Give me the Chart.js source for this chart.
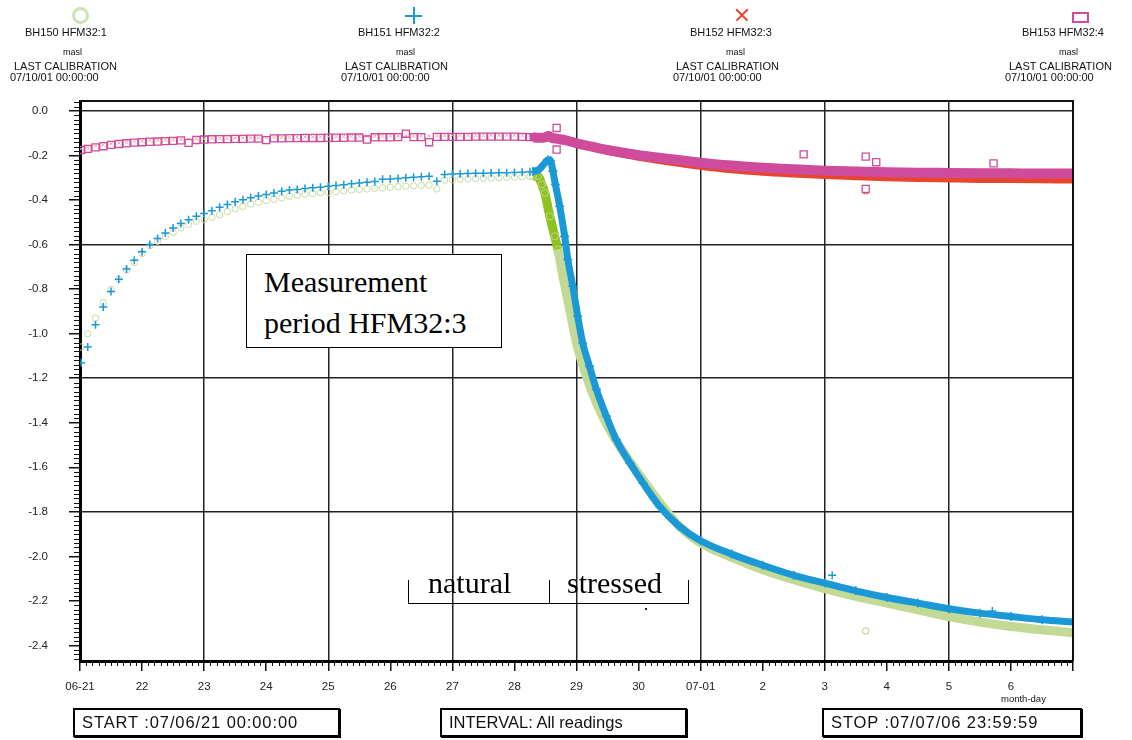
<!DOCTYPE html>
<html>
<head>
<meta charset="utf-8">
<title>HFM32 pressure</title>
<script src="https://cdn.jsdelivr.net/npm/chart.js@4.4.1/dist/chart.umd.min.js"></script>
<style>
  html, body { margin: 0; padding: 0; background: #fff; }
  #wrap { position: relative; width: 1132px; height: 740px; overflow: hidden;
          font-family: "Liberation Sans", Arial, sans-serif; color: #111; }
  #chart { position: absolute; left: 0; top: 0; }
  .t { position: absolute; white-space: nowrap; line-height: 1; }
  .nm { font-size: 11px; }
  .un { font-size: 9px; }
  .lc { font-size: 11px; }
  .dt { font-size: 11px; }
  .box { position: absolute; border: 2px solid #000; box-shadow: 1px 1px 0 #000; background: #fff;
         height: 25px; line-height: 25px; font-size: 16.5px; padding-left: 7px; box-sizing: content-box; }
  .wide { letter-spacing: 0.9px; }
  .serif { font-family: "Liberation Serif", "Times New Roman", serif; font-size: 30px; color: #000; }
  .sym { position: absolute; box-sizing: border-box; }
</style>
</head>
<body>
<div id="wrap">
  <canvas id="chart" width="1132" height="740"></canvas>

  <!-- series key -->
  <div class="sym" style="left:72px;top:7px;width:17px;height:17px;border:3px solid #cfe1ac;border-radius:50%;"></div>
  <div class="t nm" style="left:25px;top:27px;">BH150 HFM32:1</div>
  <div class="t un" style="left:63px;top:48px;">masl</div>
  <div class="t lc" style="left:14px;top:61px;">LAST CALIBRATION</div>
  <div class="t dt" style="left:10px;top:72px;">07/10/01 00:00:00</div>

  <div class="sym" style="left:405px;top:15px;width:17px;height:2px;background:#1d9ad6;"></div>
  <div class="sym" style="left:412.5px;top:7px;width:2px;height:17px;background:#1d9ad6;"></div>
  <div class="t nm" style="left:358px;top:27px;">BH151 HFM32:2</div>
  <div class="t un" style="left:396px;top:48px;">masl</div>
  <div class="t lc" style="left:345px;top:61px;">LAST CALIBRATION</div>
  <div class="t dt" style="left:341px;top:72px;">07/10/01 00:00:00</div>

  <div class="sym" style="left:734px;top:14px;width:16px;height:1.5px;background:#e8402a;transform:rotate(45deg);"></div>
  <div class="sym" style="left:734px;top:14px;width:16px;height:1.5px;background:#e8402a;transform:rotate(-45deg);"></div>
  <div class="t nm" style="left:690px;top:27px;">BH152 HFM32:3</div>
  <div class="t un" style="left:726px;top:48px;">masl</div>
  <div class="t lc" style="left:676px;top:61px;">LAST CALIBRATION</div>
  <div class="t dt" style="left:673px;top:72px;">07/10/01 00:00:00</div>

  <div class="sym" style="left:1072px;top:12px;width:17px;height:11px;border:2px solid #d04c9c;"></div>
  <div class="t nm" style="left:1022px;top:27px;">BH153 HFM32:4</div>
  <div class="t un" style="left:1059px;top:48px;">masl</div>
  <div class="t lc" style="left:1009px;top:61px;">LAST CALIBRATION</div>
  <div class="t dt" style="left:1005px;top:72px;">07/10/01 00:00:00</div>

  <!-- annotations -->
  <div style="position:absolute;left:246px;top:254px;width:256px;height:94px;border:1px solid #000;background:#fff;box-sizing:border-box;"></div>
  <div class="t serif" style="left:264px;top:267px;">Measurement</div>
  <div class="t serif" style="left:264px;top:308px;">period HFM32:3</div>

  <div style="position:absolute;left:408px;top:580px;width:281px;height:24px;border-left:1px solid #000;border-right:1px solid #000;border-bottom:1px solid #000;box-sizing:border-box;"></div>
  <div style="position:absolute;left:549px;top:580px;width:1px;height:24px;background:#000;"></div>
  <div class="t serif" style="left:428px;top:568px;">natural</div>
  <div class="t serif" style="left:567px;top:568px;">stressed</div>
  <div style="position:absolute;left:645px;top:608px;width:2px;height:2px;background:#222;"></div>

  <div class="t" style="left:1001px;top:694px;font-size:9.5px;">month-day</div>

  <!-- run information -->
  <div class="box wide" style="left:73px;top:708px;width:256px;">START :07/06/21 00:00:00</div>
  <div class="box" style="left:440px;top:708px;width:236px;">INTERVAL: All readings</div>
  <div class="box wide" style="left:822px;top:708px;width:249px;">STOP :07/07/06 23:59:59</div>
</div>

<script>
// Time axis: days since 07-06-21 00:00
const dayLabels = ['06-21','22','23','24','25','26','27','28','29','30','07-01','2','3','4','5','6',''];

// Sparse logging before the pumping start (every 3 h)
const sparseDays = [0.02,0.125,0.25,0.375,0.5,0.625,0.75,0.875,1,1.125,1.25,1.375,1.5,1.625,1.75,1.875,
  2,2.125,2.25,2.375,2.5,2.625,2.75,2.875,3,3.125,3.25,3.375,3.5,3.625,3.75,3.875,
  4,4.125,4.25,4.375,4.5,4.625,4.75,4.875,5,5.125,5.25,5.375,5.5,5.625,5.75,5.875,
  6,6.125,6.25,6.375,6.5,6.625,6.75,6.875,7,7.125,7.25];

const bh150Early = [-1.06,-1.0,-0.93,-0.86,-0.8,-0.755,-0.715,-0.68,-0.64,-0.605,-0.585,-0.563,-0.545,-0.525,-0.508,-0.495,
  -0.488,-0.478,-0.465,-0.452,-0.44,-0.428,-0.418,-0.41,-0.402,-0.396,-0.39,-0.383,-0.378,-0.373,-0.37,-0.367,
  -0.365,-0.362,-0.358,-0.355,-0.352,-0.35,-0.347,-0.345,-0.342,-0.34,-0.338,-0.336,-0.334,-0.333,-0.35,-0.31,
  -0.308,-0.306,-0.305,-0.304,-0.302,-0.301,-0.3,-0.298,-0.297,-0.295,-0.294];

const bh151Early = [-1.13,-1.06,-0.96,-0.88,-0.81,-0.755,-0.71,-0.67,-0.632,-0.6,-0.572,-0.548,-0.525,-0.505,-0.488,-0.473,
  -0.46,-0.448,-0.432,-0.42,-0.408,-0.398,-0.39,-0.382,-0.375,-0.368,-0.36,-0.355,-0.352,-0.348,-0.345,-0.342,
  -0.338,-0.335,-0.331,-0.327,-0.323,-0.32,-0.317,-0.306,-0.305,-0.303,-0.3,-0.297,-0.295,-0.293,-0.315,-0.285,
  -0.283,-0.282,-0.281,-0.28,-0.279,-0.278,-0.277,-0.277,-0.276,-0.275,-0.273];

const bh152Early = [-0.17,-0.165,-0.158,-0.152,-0.147,-0.143,-0.14,-0.137,-0.134,-0.132,-0.131,-0.129,-0.128,-0.127,-0.126,-0.125,
  -0.124,-0.123,-0.122,-0.122,-0.121,-0.121,-0.12,-0.12,-0.119,-0.119,-0.118,-0.118,-0.117,-0.117,-0.116,-0.116,
  -0.115,-0.115,-0.114,-0.114,-0.114,-0.113,-0.113,-0.113,-0.112,-0.112,-0.112,-0.112,-0.111,-0.111,-0.111,-0.111,
  -0.11,-0.11,-0.11,-0.11,-0.11,-0.109,-0.109,-0.109,-0.109,-0.11,-0.111];

const bh153Early = [-0.175,-0.17,-0.163,-0.158,-0.152,-0.148,-0.145,-0.142,-0.14,-0.138,-0.137,-0.135,-0.134,-0.132,-0.143,-0.13,
  -0.128,-0.127,-0.126,-0.126,-0.125,-0.125,-0.124,-0.124,-0.131,-0.123,-0.123,-0.122,-0.122,-0.121,-0.121,-0.121,
  -0.12,-0.12,-0.12,-0.119,-0.119,-0.128,-0.118,-0.118,-0.118,-0.117,-0.102,-0.117,-0.117,-0.14,-0.116,-0.116,
  -0.116,-0.116,-0.116,-0.115,-0.115,-0.115,-0.115,-0.115,-0.115,-0.116,-0.117];

// Dense logging from the pumping start onward
const bh150LateDays = [7.3,7.38,7.44,7.49,7.57,7.65,7.7,7.78,7.89,8,8.16,8.32,8.53,8.8,9.07,9.39,9.66,10,10.5,11,11.5,12,12.5,13,13.5,14,14.5,15,15.5,16];
const bh150Late = [-0.293,-0.292,-0.33,-0.368,-0.473,-0.563,-0.622,-0.742,-0.892,-1.042,-1.192,-1.31,-1.43,-1.55,-1.656,-1.776,-1.866,-1.94,-2.005,-2.06,-2.105,-2.145,-2.18,-2.21,-2.24,-2.27,-2.295,-2.315,-2.33,-2.343];

const bh151LateDays = [7.3,7.4,7.47,7.54,7.58,7.62,7.66,7.73,7.81,7.86,7.94,8.02,8.1,8.21,8.32,8.48,8.64,8.86,9.07,9.34,9.66,10,10.5,11,11.5,12,12.5,13,13.5,14,14.5,15,15.5,16];
const bh151Late = [-0.272,-0.262,-0.24,-0.22,-0.222,-0.27,-0.33,-0.428,-0.563,-0.667,-0.787,-0.922,-1.042,-1.147,-1.25,-1.37,-1.476,-1.58,-1.67,-1.776,-1.866,-1.93,-1.99,-2.04,-2.085,-2.12,-2.155,-2.185,-2.21,-2.235,-2.255,-2.27,-2.285,-2.295];

const bh152LateDays = [7.3,7.4,7.5,7.55,7.6,7.7,7.8,7.9,8,8.25,8.5,8.75,9,9.5,10,10.5,11,11.5,12,12.5,13,13.5,14,14.5,15,15.5,16];
const bh152Late = [-0.116,-0.118,-0.116,-0.112,-0.118,-0.124,-0.13,-0.138,-0.147,-0.163,-0.18,-0.195,-0.208,-0.229,-0.248,-0.264,-0.275,-0.283,-0.29,-0.295,-0.3,-0.303,-0.305,-0.307,-0.308,-0.309,-0.31];

const bh153LateDays = [7.3,7.4,7.5,7.55,7.6,7.7,7.8,7.9,8,8.25,8.5,8.75,9,9.5,10,10.5,11,11.5,12,12.5,13,13.5,14,14.5,15,15.5,16];
const bh153Late = [-0.118,-0.12,-0.118,-0.112,-0.12,-0.125,-0.13,-0.137,-0.145,-0.16,-0.175,-0.187,-0.198,-0.215,-0.232,-0.245,-0.255,-0.262,-0.268,-0.272,-0.275,-0.277,-0.278,-0.279,-0.28,-0.281,-0.281];

// Single off-trend readings
const bh150OddDays = [12.66];
const bh150Odd = [-2.335];
const bh151OddDays = [12.12, 14.7];
const bh151Odd = [-2.085, -2.245];
const bh152OddDays = [12.66];
const bh152Odd = [-0.365];
const bh153OddDays = [7.68, 7.68, 11.66, 12.66, 12.83, 12.66, 14.72];
const bh153Odd = [-0.076, -0.173, -0.195, -0.205, -0.23, -0.35, -0.235];

const yTickValues = [0, -0.6, -1.2, -1.8]; // values carrying a full-width grid line

const pts = (days, vals) => days.map((d, i) => ({ x: d, y: vals[i] }));

const GREEN = '#c3da96', GREEN_DARK = '#8dc21f', BLUE = '#1b98d6', RED = '#e8452b', PINK = '#cf4b9b';

// Small axis ticks between labelled ones, plus the top/right frame
const axisDecor = {
  id: 'axisDecor',
  afterDraw(chart) {
    const { ctx, chartArea: a, scales: { x, y } } = chart;
    ctx.save();
    ctx.strokeStyle = '#111';
    ctx.lineWidth = 1;
    ctx.beginPath();
    for (let i = 1; i < 160; i++) {
      if (i % 10 === 0) continue;
      const px = Math.round(x.getPixelForValue(i / 10)) + 0.5;
      ctx.moveTo(px, a.bottom);
      ctx.lineTo(px, a.bottom + 5);
    }
    for (let k = -123; k <= 2; k++) {
      if (k % 10 === 0) continue;
      const py = Math.round(y.getPixelForValue(k / 50)) + 0.5;
      ctx.moveTo(a.left, py);
      ctx.lineTo(a.left - 6, py);
    }
    ctx.stroke();
    ctx.lineWidth = 2;
    ctx.beginPath();
    ctx.moveTo(a.left, a.top);
    ctx.lineTo(a.right, a.top);
    ctx.lineTo(a.right, a.bottom);
    ctx.stroke();
    ctx.restore();
  }
};

const tickFont = { family: '"Liberation Sans", Arial, sans-serif', size: 11.5 };

new Chart(document.getElementById('chart'), {
  type: 'scatter',
  data: {
    datasets: [
      // BH153 HFM32:4
      { label: 'BH153 HFM32:4', data: pts(bh153OddDays, bh153Odd), order: 1,
        pointStyle: 'rect', pointRadius: 5, pointBorderWidth: 1.3, pointBorderColor: PINK, pointBackgroundColor: '#fff' },
      { label: 'BH153 HFM32:4', data: pts(bh153LateDays, bh153Late), order: 2, showLine: true,
        borderColor: PINK, borderWidth: 10, cubicInterpolationMode: 'monotone',
        pointStyle: 'rect', pointRadius: 4, pointBorderWidth: 1.3, pointBorderColor: PINK, pointBackgroundColor: PINK },
      { label: 'BH153 HFM32:4', data: pts(sparseDays, bh153Early), order: 3,
        pointStyle: 'rect', pointRadius: 5, pointBorderWidth: 1.3, pointBorderColor: PINK, pointBackgroundColor: 'rgba(255,255,255,0)' },
      // BH152 HFM32:3
      { label: 'BH152 HFM32:3', data: pts(bh152OddDays, bh152Odd), order: 4,
        pointStyle: 'crossRot', pointRadius: 3, pointBorderWidth: 1.2, pointBorderColor: RED },
      { label: 'BH152 HFM32:3', data: pts(bh152LateDays, bh152Late), order: 5, showLine: true,
        borderColor: RED, borderWidth: 7, cubicInterpolationMode: 'monotone',
        pointStyle: 'crossRot', pointRadius: 3, pointBorderWidth: 1, pointBorderColor: RED },
      { label: 'BH152 HFM32:3', data: pts(sparseDays, bh152Early), order: 6,
        pointStyle: 'crossRot', pointRadius: 2.5, pointBorderWidth: 1, pointBorderColor: '#f2a697' },
      // BH151 HFM32:2
      { label: 'BH151 HFM32:2', data: pts(bh151OddDays, bh151Odd), order: 7,
        pointStyle: 'cross', pointRadius: 4, pointBorderWidth: 1.4, pointBorderColor: BLUE },
      { label: 'BH151 HFM32:2', data: pts(bh151LateDays, bh151Late), order: 8, showLine: true,
        borderColor: BLUE, borderWidth: 7, cubicInterpolationMode: 'monotone',
        pointStyle: 'cross', pointRadius: 4.5, pointBorderWidth: 1.6, pointBorderColor: BLUE },
      { label: 'BH151 HFM32:2', data: pts(sparseDays, bh151Early), order: 9,
        pointStyle: 'cross', pointRadius: 4, pointBorderWidth: 1.5, pointBorderColor: BLUE },
      // BH150 HFM32:1
      { label: 'BH150 HFM32:1', data: pts(bh150OddDays, bh150Odd), order: 10,
        pointStyle: 'circle', pointRadius: 3.2, pointBorderWidth: 1, pointBorderColor: '#b5d07f', pointBackgroundColor: 'rgba(255,255,255,0)' },
      { label: 'BH150 HFM32:1', data: pts(bh150LateDays, bh150Late), order: 11, showLine: true,
        borderColor: GREEN, borderWidth: 9, cubicInterpolationMode: 'monotone',
        segment: { borderColor: c => (c.p1.parsed.x <= 7.75 ? GREEN_DARK : GREEN) },
        pointStyle: 'circle', pointRadius: 3.5, pointBorderWidth: 1, pointBorderColor: '#bfd78c', pointBackgroundColor: 'rgba(255,255,255,0)' },
      { label: 'BH150 HFM32:1', data: pts(sparseDays, bh150Early), order: 12,
        pointStyle: 'circle', pointRadius: 3.2, pointBorderWidth: 1, pointBorderColor: '#c6dca0', pointBackgroundColor: 'rgba(255,255,255,0)' }
    ]
  },
  options: {
    responsive: false,
    animation: false,
    devicePixelRatio: 1,
    layout: { padding: { left: 0, right: 59, top: 101, bottom: 39 } },
    plugins: { legend: { display: false }, tooltip: { enabled: false } },
    events: [],
    scales: {
      x: {
        type: 'linear', min: 0, max: 16,
        afterFit: s => { s.height = 40; },
        border: { display: true, color: '#000', width: 3 },
        grid: {
          color: c => (c.tick && c.tick.value % 2 === 0 && c.tick.value > 0 && c.tick.value < 16) ? '#222' : 'rgba(0,0,0,0)',
          lineWidth: 1.5, tickColor: '#111', tickWidth: 1.5, tickLength: 10
        },
        ticks: {
          stepSize: 1, autoSkip: false, maxRotation: 0, padding: 9, color: '#222', font: tickFont,
          callback: v => dayLabels[Math.round(v)] ?? ''
        }
      },
      y: {
        type: 'linear', min: -2.47, max: 0.045,
        afterFit: s => { s.width = 80; },
        border: { display: true, color: '#000', width: 3 },
        grid: {
          color: c => (c.tick && yTickValues.some(v => Math.abs(v - c.tick.value) < 1e-6)) ? '#222' : 'rgba(0,0,0,0)',
          lineWidth: 1.5, tickColor: '#111', tickWidth: 1.5, tickLength: 11
        },
        ticks: {
          stepSize: 0.2, includeBounds: false, autoSkip: false, padding: 21, color: '#222', font: tickFont,
          callback: v => (Math.abs(v) < 1e-9 ? '0.0' : Number(v).toFixed(1))
        }
      }
    }
  },
  plugins: [axisDecor]
});
</script>
</body>
</html>
